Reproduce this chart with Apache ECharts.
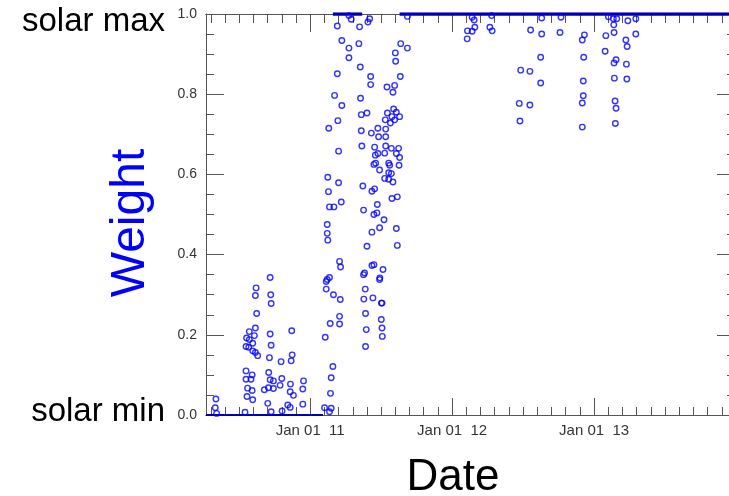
<!DOCTYPE html>
<html>
<head>
<meta charset="utf-8">
<script src="https://cdn.jsdelivr.net/npm/echarts@6/dist/echarts.min.js"></script>
<style>
  html, body { margin: 0; padding: 0; background: #fff; overflow: hidden; }
  #chart { width: 740px; height: 496px; }
</style>
</head>
<body>
<div id="chart"></div>
<script>
// Observation dates as fractional years, weights between solar min (0) and solar max (1)
const xRange = [2010.266, 2014.0];
const yearTicks = [2011, 2012, 2013];
const weightTicks = [0, 0.2, 0.4, 0.6, 0.8, 1.0];

// Rising phase, 2010
const weights2010 = [
  [2010.336, 0.040], [2010.331, 0.018], [2010.341, 0.004], [2010.541, 0.007],
  [2010.718, 0.343], [2010.619, 0.317], [2010.614, 0.298], [2010.722, 0.300],
  [2010.725, 0.278], [2010.623, 0.253], [2010.614, 0.217], [2010.571, 0.208],
  [2010.607, 0.198], [2010.552, 0.192], [2010.571, 0.188], [2010.595, 0.179],
  [2010.548, 0.171], [2010.567, 0.169], [2010.595, 0.160], [2010.614, 0.156],
  [2010.630, 0.148], [2010.718, 0.202], [2010.725, 0.174], [2010.713, 0.143],
  [2010.870, 0.210], [2010.873, 0.150], [2010.866, 0.135], [2010.795, 0.133],
  [2010.548, 0.110], [2010.591, 0.100], [2010.548, 0.089], [2010.583, 0.089],
  [2010.559, 0.067], [2010.591, 0.061], [2010.555, 0.046], [2010.595, 0.038],
  [2010.708, 0.106], [2010.718, 0.088], [2010.741, 0.085], [2010.800, 0.091],
  [2010.788, 0.074], [2010.706, 0.068], [2010.741, 0.066], [2010.677, 0.063],
  [2010.861, 0.077], [2010.953, 0.085], [2010.948, 0.065], [2010.859, 0.058],
  [2010.882, 0.049], [2010.701, 0.029], [2010.842, 0.025], [2010.859, 0.019],
  [2010.948, 0.027], [2010.725, 0.008], [2010.802, 0.010]
];

// Transition, 2011
const weights2011 = [
  [2011.113, 0.333], [2011.113, 0.314], [2011.164, 0.300], [2011.212, 0.288],
  [2011.207, 0.246], [2011.141, 0.228], [2011.207, 0.227], [2011.106, 0.194],
  [2011.160, 0.121], [2011.148, 0.093], [2011.143, 0.054], [2011.101, 0.018],
  [2011.148, 0.017], [2011.136, 0.008], [2011.388, 0.314], [2011.378, 0.289],
  [2011.442, 0.292], [2011.506, 0.279], [2011.502, 0.279], [2011.390, 0.253],
  [2011.501, 0.238], [2011.395, 0.213], [2011.506, 0.217], [2011.508, 0.196],
  [2011.390, 0.171], [2011.489, 0.338],
  [2011.200, 0.658], [2011.124, 0.593], [2011.200, 0.579], [2011.129, 0.557],
  [2011.136, 0.519], [2011.167, 0.519], [2011.219, 0.531], [2011.120, 0.475],
  [2011.120, 0.453], [2011.124, 0.436], [2011.207, 0.383], [2011.214, 0.369],
  [2011.136, 0.343], [2011.120, 0.338], [2011.364, 0.671], [2011.454, 0.668],
  [2011.532, 0.671], [2011.572, 0.665], [2011.623, 0.665], [2011.459, 0.648],
  [2011.477, 0.652], [2011.525, 0.653], [2011.607, 0.652], [2011.630, 0.642],
  [2011.461, 0.628], [2011.449, 0.625], [2011.553, 0.628], [2011.560, 0.623],
  [2011.626, 0.623], [2011.489, 0.611], [2011.553, 0.604], [2011.572, 0.602],
  [2011.525, 0.590], [2011.553, 0.588], [2011.583, 0.581], [2011.371, 0.571],
  [2011.454, 0.564], [2011.435, 0.558], [2011.576, 0.540], [2011.614, 0.544],
  [2011.473, 0.525], [2011.376, 0.511], [2011.470, 0.504], [2011.449, 0.500],
  [2011.520, 0.487], [2011.489, 0.467], [2011.607, 0.465], [2011.435, 0.456],
  [2011.400, 0.421], [2011.614, 0.423], [2011.449, 0.375], [2011.435, 0.373],
  [2011.513, 0.363], [2011.383, 0.354], [2011.376, 0.350], [2011.491, 0.342],
  [2011.273, 0.996], [2011.289, 0.987], [2011.407, 0.980], [2011.419, 0.988],
  [2011.685, 0.994], [2011.191, 0.970], [2011.348, 0.968], [2011.223, 0.934],
  [2011.343, 0.926], [2011.273, 0.915], [2011.273, 0.891], [2011.638, 0.926],
  [2011.685, 0.915], [2011.600, 0.903], [2011.602, 0.882], [2011.353, 0.868],
  [2011.191, 0.851], [2011.426, 0.844], [2011.635, 0.844], [2011.426, 0.824],
  [2011.595, 0.822], [2011.541, 0.818], [2011.583, 0.805], [2011.172, 0.797],
  [2011.355, 0.790], [2011.223, 0.772], [2011.195, 0.734], [2011.131, 0.715],
  [2011.360, 0.749], [2011.400, 0.753], [2011.588, 0.763], [2011.607, 0.755],
  [2011.544, 0.753], [2011.630, 0.744], [2011.576, 0.744], [2011.529, 0.736],
  [2011.595, 0.736], [2011.565, 0.728], [2011.532, 0.713], [2011.477, 0.715],
  [2011.360, 0.709], [2011.431, 0.703], [2011.482, 0.694], [2011.532, 0.694]
];

// Near solar max, 2012-2013
const weights2012 = [
  [2012.141, 0.992], [2012.155, 0.985], [2012.278, 0.996], [2012.108, 0.958],
  [2012.141, 0.957], [2012.160, 0.967], [2012.106, 0.938], [2012.266, 0.967],
  [2012.282, 0.958], [2012.631, 0.990], [2012.553, 0.960], [2012.631, 0.950],
  [2012.624, 0.892], [2012.483, 0.860], [2012.548, 0.857], [2012.624, 0.828],
  [2012.473, 0.777], [2012.548, 0.773], [2012.478, 0.733], [2012.767, 0.992],
  [2012.760, 0.954], [2012.932, 0.948], [2012.917, 0.935], [2012.927, 0.892],
  [2012.924, 0.833], [2012.924, 0.796], [2012.917, 0.778], [2012.917, 0.718],
  [2013.101, 0.993], [2013.136, 0.988], [2013.160, 0.988], [2013.139, 0.973],
  [2013.141, 0.954], [2013.083, 0.946], [2013.238, 0.983], [2013.294, 0.988],
  [2013.294, 0.950], [2013.224, 0.935], [2013.233, 0.919], [2013.078, 0.907],
  [2013.155, 0.886], [2013.141, 0.878], [2013.228, 0.875], [2013.143, 0.840],
  [2013.231, 0.838], [2013.148, 0.783], [2013.155, 0.765], [2013.150, 0.727]
];

// Spans where the weight sits pinned at solar min / solar max
const pinnedMin = [[2010.266, 0], [2011.090, 0]];
const pinnedMaxEarly = [[2011.160, 1], [2011.366, 1]];
const pinnedMaxLate = [[2011.630, 1], [2014.0, 1]];

// minor ticks every tenth of a year
const minorYearTicks = [];
for (let k = Math.ceil(xRange[0] * 10); k < xRange[1] * 10; k++) {
  if (k % 10 !== 0) minorYearTicks.push(k / 10);
}

const FONT = 'Liberation Sans, Arial, Helvetica, sans-serif';
const AX = '#555';

function xAxisDef(position, ticks, len, labels) {
  return {
    type: 'value', position: position, min: xRange[0], max: xRange[1],
    gridIndex: 0,
    axisLine: { show: labels !== null, lineStyle: { color: AX, width: 1 } },
    axisTick: { show: true, inside: true, length: len, customValues: ticks,
                lineStyle: { color: AX, width: 1 } },
    axisLabel: labels ? {
      show: true, customValues: ticks, margin: 8, fontSize: 15,
      color: '#333', fontFamily: FONT,
      formatter: v => 'Jan 01  ' + String(Math.round(v)).slice(2)
    } : { show: false },
    splitLine: { show: false }
  };
}

function yAxisDef(position, showLabels, major, minor) {
  return {
    type: 'value', position: position, min: 0, max: 1, interval: 0.2,
    axisLine: { show: true, lineStyle: { color: AX, width: 1 } },
    axisTick: { show: true, inside: true, length: major, lineStyle: { color: AX, width: 1 } },
    minorTick: { show: true, splitNumber: 4, length: minor, lineStyle: { color: AX, width: 1 } },
    axisLabel: showLabels ? {
      show: true, margin: 9, fontSize: 14, color: '#333', fontFamily: FONT,
      formatter: v => (weightTicks.includes(Math.round(v * 10) / 10) ? v.toFixed(1) : '')
    } : { show: false },
    splitLine: { show: false }, minorSplitLine: { show: false }
  };
}

const pointStyle = {
  type: 'scatter', xAxisIndex: 0, yAxisIndex: 0,
  symbol: 'circle', symbolSize: 5.5,
  itemStyle: { color: 'rgba(255,255,255,0)', borderColor: '#0000ff', borderWidth: 1.4 },
  emphasis: { disabled: true }, z: 3
};

function pinned(data, width) {
  return {
    type: 'line', data: data, xAxisIndex: 0, yAxisIndex: 0,
    symbol: 'none', lineStyle: { color: '#0000b0', width: width }, z: 2, silent: true
  };
}

const chart = echarts.init(document.getElementById('chart'), null, { renderer: 'canvas' });
chart.setOption({
  animation: false,
  backgroundColor: '#fff',
  grid: { left: 206, top: 14, right: 4, bottom: 81 },
  xAxis: [
    xAxisDef('bottom', yearTicks, 17, true),
    xAxisDef('bottom', minorYearTicks, 8, false),
    xAxisDef('top', yearTicks, 18, false),
    xAxisDef('top', minorYearTicks, 9, false)
  ],
  yAxis: [
    yAxisDef('left', true, 18, 8),
    yAxisDef('right', false, 19, 9)
  ],
  series: [
    pinned(pinnedMin, 2),
    pinned(pinnedMaxEarly, 3.5),
    pinned(pinnedMaxLate, 3.5),
    Object.assign({ name: '2010', data: weights2010 }, pointStyle),
    Object.assign({ name: '2011', data: weights2011 }, pointStyle),
    Object.assign({ name: '2012', data: weights2012 }, pointStyle)
  ],
  graphic: [
    { type: 'text', x: 165, y: 22, style: { text: 'solar max', fill: '#000',
      font: '33px ' + FONT, align: 'right', verticalAlign: 'middle' } },
    { type: 'text', x: 165, y: 412, style: { text: 'solar min', fill: '#000',
      font: '33px ' + FONT, align: 'right', verticalAlign: 'middle' } },
    { type: 'text', x: 131, y: 223, rotation: Math.PI / 2, style: { text: 'Weight', fill: '#0000ff',
      font: '48px ' + FONT, align: 'center', verticalAlign: 'middle' } },
    { type: 'text', x: 453, y: 478, style: { text: 'Date', fill: '#000',
      font: '44px ' + FONT, align: 'center', verticalAlign: 'middle' } }
  ]
});
</script>
</body>
</html>
